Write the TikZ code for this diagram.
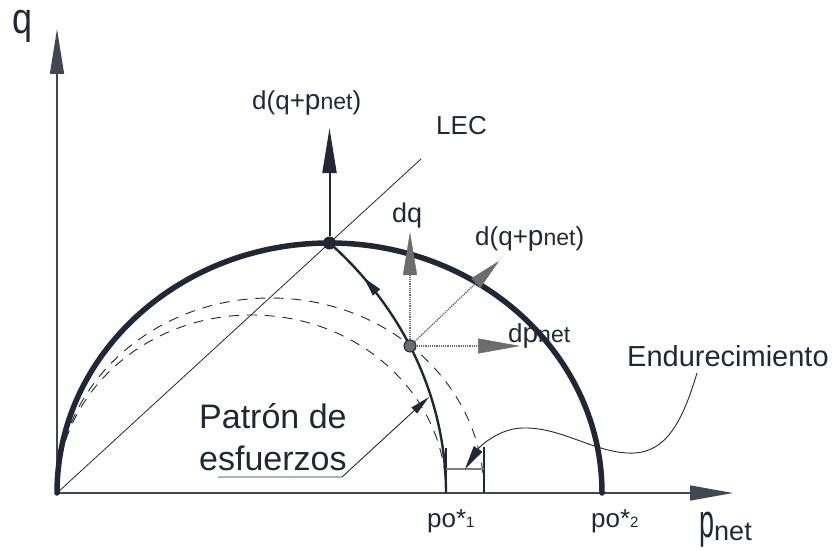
\documentclass[tikz,border=0pt]{standalone}
\usepackage{fontspec}
\setmainfont{Liberation Sans}
\usetikzlibrary{arrows.meta,decorations.markings}
\definecolor{ink}{RGB}{33,40,52}
\definecolor{vgray}{RGB}{108,108,108}
\newcommand{\fs}[1]{\fontsize{#1}{#1}\selectfont}
\newcommand{\pn}{{\fs{28}p}{\fs{23}net}}
\begin{document}
\begin{tikzpicture}[x=1pt,y=1pt,
  axisline/.style={draw=ink!85, line width=1.4pt},
  bigtip/.style={-{Triangle[length=45pt,width=14pt]}},
  smalltip/.style={-{Triangle[length=20pt,width=8pt]}},
  vec/.style={draw=vgray, line width=1.5pt, dash pattern=on 1.2pt off 1pt},
  lbl/.style={text=ink, inner sep=0pt, anchor=base west},
  dashcurve/.style={draw=ink, line width=0.9pt, dash pattern=on 10pt off 8pt},
  thin/.style={draw=ink, line width=0.9pt}
]
\useasboundingbox (0,0) rectangle (834,550);

% coordinates
\coordinate (O) at (57,57);
\coordinate (Qtip) at (57,521);
\coordinate (Ptip) at (733,57);
\coordinate (po1) at (446,57);
\coordinate (po2) at (602,57);
\coordinate (Lend) at (421,391);
\coordinate (Ttip) at (329.5,422);

% axes
\draw[axisline, bigtip] (O) -- (Qtip);
\draw[axisline, -{Triangle[length=43pt,width=15pt]}] (O) -- (Ptip);

% LEC line
\draw[thin, line width=0.8pt] (O) -- (Lend);

% thick yield ellipse
\draw[ink, line width=5.5pt, line cap=round] (O) arc[start angle=180, end angle=0, x radius=272.5, y radius=250];

% dashed ellipses
\draw[dashcurve] (O) arc[start angle=180, end angle=0, x radius=213.5, y radius=195];
\draw[dashcurve] (O) arc[start angle=180, end angle=0, x radius=194.5, y radius=178];

% small hardening box
\draw[ink, line width=1.1pt] (446,102) -- (po1);
\draw[ink, line width=1.1pt] (484,103) -- (484,57);
\coordinate (hb1) at (446,81);
\coordinate (hb2) at (484,81);
\draw[draw=ink!60, line width=1.2pt] (hb1) -- (hb2);

% stress path
\draw[ink, line width=2.4pt, postaction={decorate},
  decoration={markings, mark=at position 0.83 with {\arrow{Triangle[length=20pt,width=9pt]}}}]
  (po1) arc[start angle=0, end angle=45.1, x radius=396, y radius=353];

% nodes
\node[circle, fill=ink, inner sep=0pt, minimum size=13pt] (T) at (329.5,307) {};
\node[circle, fill=vgray, draw=ink, line width=1pt, inner sep=0pt, minimum size=12pt] (D) at (410,204) {};

% vertical arrow at T
\draw[ink, line width=2pt, bigtip] (T) -- (Ttip);

% increment vectors
\coordinate (dqtip) at (410,318);
\coordinate (ddtip) at (499,289);
\coordinate (dptip) at (520,204);
\draw[vec, -{Triangle[length=43pt,width=14pt,fill=vgray,line width=0.5pt]}] (D) -- (dqtip);
\draw[vec, -{Triangle[length=32pt,width=13pt,fill=vgray,line width=0.5pt]}] (D) -- (ddtip);
\draw[vec, -{Triangle[length=42pt,width=15pt,fill=vgray,line width=0.5pt]}] (D) -- (dptip);

% Patron leader
\coordinate (pa) at (218,73);
\coordinate (pb) at (342,73);
\coordinate (pt) at (429,153);
\draw[thin, smalltip] (pa) -- (pb) -- (pt);

% Endurecimiento leader
\coordinate (ea) at (697,177);
\coordinate (et) at (465,81);
\draw[thin, -{Triangle[length=24pt,width=10pt]}] (ea) .. controls (680,120) and (662,95) .. (627,97)
  .. controls (592,99) and (560,123) .. (523,122)
  .. controls (500,122) and (480,104) .. (et);

% labels
\node[lbl] (qlab) at (12,516) {\fs{36}\scalebox{1}[1.2]{q}};
\node[lbl] (plab) at (699,13) {\fs{27}\scalebox{1}[1.75]{p}\raisebox{-3pt}{net}};
\node[lbl] (po1lab) at (427,23) {\fs{26}po*{\fs{15}1}};
\node[lbl] (po2lab) at (591,23) {\fs{26}po*{\fs{15}2}};
\node[lbl] (dqlab) at (392,328) {\fs{27}dq};
\node[lbl] (dd1lab) at (475,305) {\fs{26}d(q+\pn)};
\node[lbl] (dd2lab) at (252,440) {\fs{26}d(q+\pn)};
\node[lbl] (dplab) at (508,208) {\fs{26}d\pn};
\node[lbl] (elab) at (627,184) {\fs{29}Endurecimiento};
\node[lbl] (leclab) at (436,416) {\fs{26}LEC};
\node[lbl] (pat1) at (199,122) {\fs{34}Patrón de};
\node[lbl] (pat2) at (199,80) {\fs{34}esfuerzos};
\end{tikzpicture}
\end{document}
